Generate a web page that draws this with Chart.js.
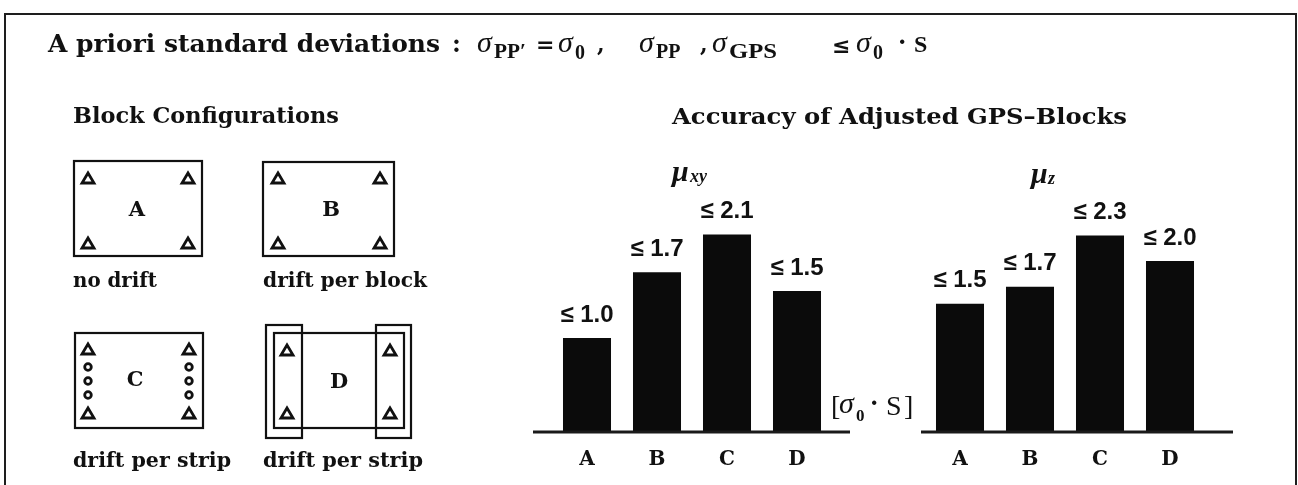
<!DOCTYPE html>
<html><head><meta charset="utf-8">
<script src="https://cdn.jsdelivr.net/npm/chart.js@4.4.1/dist/chart.umd.min.js"></script>
<style>
html,body{margin:0;padding:0;background:#fff;}
body{width:1298px;height:485px;position:relative;overflow:hidden;}
.frame{position:absolute;left:4px;top:13px;width:1289px;height:520px;border:2px solid #1e1e1e;}
canvas{position:absolute;}
svg{position:absolute;left:0;top:0;}
</style></head><body>
<div class="frame"></div>
<canvas id="c1" width="350" height="335" style="left:520px;top:150px"></canvas>
<canvas id="c2" width="380" height="335" style="left:880px;top:150px"></canvas>
<svg width="1298" height="485" viewBox="0 0 1298 485">
 <g font-family="'DejaVu Serif', serif" font-weight="bold" fill="#111">
  <text x="48" y="52" font-size="24" textLength="392" lengthAdjust="spacingAndGlyphs">A priori standard deviations</text>
  <text x="452" y="52" font-size="24">:</text>
  <text x="536" y="52" font-size="22">=</text>
  <text x="597" y="52" font-size="22">,</text>
  <text x="700" y="52" font-size="22">,</text>
  <text x="832" y="53" font-size="22">≤</text>
  <text x="898" y="50" font-size="24">·</text>
  <text x="914" y="52" font-size="24" font-family="'Liberation Serif', serif">S</text>
 </g>
 <g font-family="'Liberation Serif', serif" font-style="italic" fill="#111" font-size="30">
  <text x="477" y="52">σ</text>
  <text x="558" y="52">σ</text>
  <text x="639" y="52">σ</text>
  <text x="712" y="52">σ</text>
  <text x="856" y="52">σ</text>
 </g>
 <g font-family="'Liberation Serif', serif" font-weight="bold" fill="#111" font-size="20">
  <text x="494" y="58" textLength="32" lengthAdjust="spacingAndGlyphs">PP′</text>
  <text x="575" y="59">0</text>
  <text x="656" y="58">PP</text>
  <text x="729" y="58" textLength="48" lengthAdjust="spacingAndGlyphs">GPS</text>
  <text x="873" y="59">0</text>
 </g>
 <g font-family="'DejaVu Serif', serif" font-weight="bold" fill="#111">
  <text x="73" y="123" font-size="22" textLength="266" lengthAdjust="spacingAndGlyphs">Block Configurations</text>
  <text x="672" y="124" font-size="22" textLength="455" lengthAdjust="spacingAndGlyphs">Accuracy of Adjusted GPS–Blocks</text>
  <text x="73" y="287" font-size="20" textLength="84" lengthAdjust="spacingAndGlyphs">no drift</text>
  <text x="263" y="287" font-size="20" textLength="164" lengthAdjust="spacingAndGlyphs">drift per block</text>
  <text x="73" y="467" font-size="20" textLength="158" lengthAdjust="spacingAndGlyphs">drift per strip</text>
  <text x="263" y="467" font-size="20" textLength="160" lengthAdjust="spacingAndGlyphs">drift per strip</text>
  <g font-size="21" text-anchor="middle">
   <text x="137" y="216">A</text>
   <text x="331" y="216">B</text>
   <text x="135" y="386">C</text>
   <text x="339" y="388">D</text>
  </g>
 </g>
 <g fill="none" stroke="#111" stroke-width="2.2">
  <rect x="74" y="161" width="128" height="95"/>
  <rect x="263" y="162" width="131" height="94"/>
  <rect x="75" y="333" width="128" height="95"/>
  <rect x="274" y="333" width="130" height="95"/>
  <rect x="266" y="325" width="36" height="113"/>
  <rect x="376" y="325" width="35" height="113"/>
 </g>
 <g fill="none" stroke="#111" stroke-width="2.8" stroke-linejoin="miter">
  <path d="M82,183 L94,183 L88,173 Z M182,183 L194,183 L188,173 Z M82,248 L94,248 L88,238 Z M182,248 L194,248 L188,238 Z"/>
  <path d="M272,183 L284,183 L278,173 Z M374,183 L386,183 L380,173 Z M272,248 L284,248 L278,238 Z M374,248 L386,248 L380,238 Z"/>
  <path d="M82,354 L94,354 L88,344 Z M183,354 L195,354 L189,344 Z M82,418 L94,418 L88,408 Z M183,418 L195,418 L189,408 Z"/>
  <path d="M281,355 L293,355 L287,345 Z M384,355 L396,355 L390,345 Z M281,418 L293,418 L287,408 Z M384,418 L396,418 L390,408 Z"/>
  <circle cx="88" cy="367" r="3.3"/><circle cx="88" cy="381" r="3.3"/><circle cx="88" cy="395" r="3.3"/>
  <circle cx="189" cy="367" r="3.3"/><circle cx="189" cy="381" r="3.3"/><circle cx="189" cy="395" r="3.3"/>
 </g>
 <g fill="#111">
  <text x="672" y="181" font-family="'Liberation Serif', serif" font-style="italic" font-weight="bold" font-size="30">μ</text>
  <text x="690" y="182" font-family="'Liberation Serif', serif" font-style="italic" font-weight="bold" font-size="18">xy</text>
  <text x="1031" y="183" font-family="'Liberation Serif', serif" font-style="italic" font-weight="bold" font-size="30">μ</text>
  <text x="1048" y="184" font-family="'Liberation Serif', serif" font-style="italic" font-weight="bold" font-size="18">z</text>
  <text x="831" y="415" font-family="'Liberation Serif', serif" font-size="28">[</text>
  <text x="839" y="413" font-family="'Liberation Serif', serif" font-style="italic" font-size="30">σ</text>
  <text x="856" y="421" font-family="'Liberation Serif', serif" font-weight="bold" font-size="17">0</text>
  <text x="870" y="411" font-family="'DejaVu Serif', serif" font-weight="bold" font-size="24">·</text>
  <text x="886" y="415" font-family="'Liberation Serif', serif" font-size="28">S</text>
  <text x="904" y="415" font-family="'Liberation Serif', serif" font-size="28">]</text>
 </g>
</svg>
<script>
const categories = ['A', 'B', 'C', 'D'];
const muXY = [1.0, 1.7, 2.1, 1.5];
const muZ = [1.5, 1.7, 2.3, 2.0];
const yMaxXY = 3.0;
const yMaxZ = 3.3;

const baseLine = {
  id: 'baseLine',
  afterDatasetsDraw(chart, args, opts) {
    const {ctx, chartArea} = chart;
    const y = chart.scales.y.getPixelForValue(0);
    ctx.save();
    ctx.strokeStyle = '#1a1a1a';
    ctx.lineWidth = 3;
    ctx.beginPath();
    ctx.moveTo(chartArea.left - opts.extendLeft, y);
    ctx.lineTo(chartArea.right + opts.extendRight, y);
    ctx.stroke();
    ctx.restore();
  }
};

const valueLabels = {
  id: 'valueLabels',
  afterDatasetsDraw(chart) {
    const ctx = chart.ctx;
    const meta = chart.getDatasetMeta(0);
    const data = chart.data.datasets[0].data;
    ctx.save();
    ctx.font = 'bold 24px "Liberation Sans", Arial, sans-serif';
    ctx.fillStyle = '#111';
    ctx.textAlign = 'center';
    ctx.textBaseline = 'middle';
    meta.data.forEach((bar, i) => {
      ctx.fillText('\u2264 ' + data[i].toFixed(1), bar.x, bar.y - 23);
    });
    ctx.restore();
  }
};

function makeChart(id, values, yMax, padL, padR, extL, extR) {
  return new Chart(document.getElementById(id), {
    type: 'bar',
    data: {
      labels: categories,
      datasets: [{
        data: values,
        backgroundColor: '#0b0b0b',
        borderWidth: 0,
        barPercentage: 0.686,
        categoryPercentage: 1
      }]
    },
    options: {
      responsive: false,
      animation: false,
      devicePixelRatio: 1,
      layout: { padding: { left: padL, right: padR, top: 0, bottom: 0 } },
      plugins: {
        legend: { display: false },
        tooltip: { enabled: false },
        baseLine: { extendLeft: extL, extendRight: extR }
      },
      scales: {
        x: {
          grid: { display: false, drawTicks: false },
          border: { display: false },
          ticks: {
            color: '#111',
            font: { family: '"DejaVu Serif", serif', weight: 'bold', size: 20 },
            padding: 16,
            maxRotation: 0
          },
          afterFit(scale) { scale.height = 53; }
        },
        y: { display: false, min: 0, max: yMax }
      }
    },
    plugins: [baseLine, valueLabels]
  });
}

makeChart('c1', muXY, yMaxXY, 32, 38, 19, 18);
makeChart('c2', muZ, yMaxZ, 45, 55, 4, 28);
</script>
</body></html>
